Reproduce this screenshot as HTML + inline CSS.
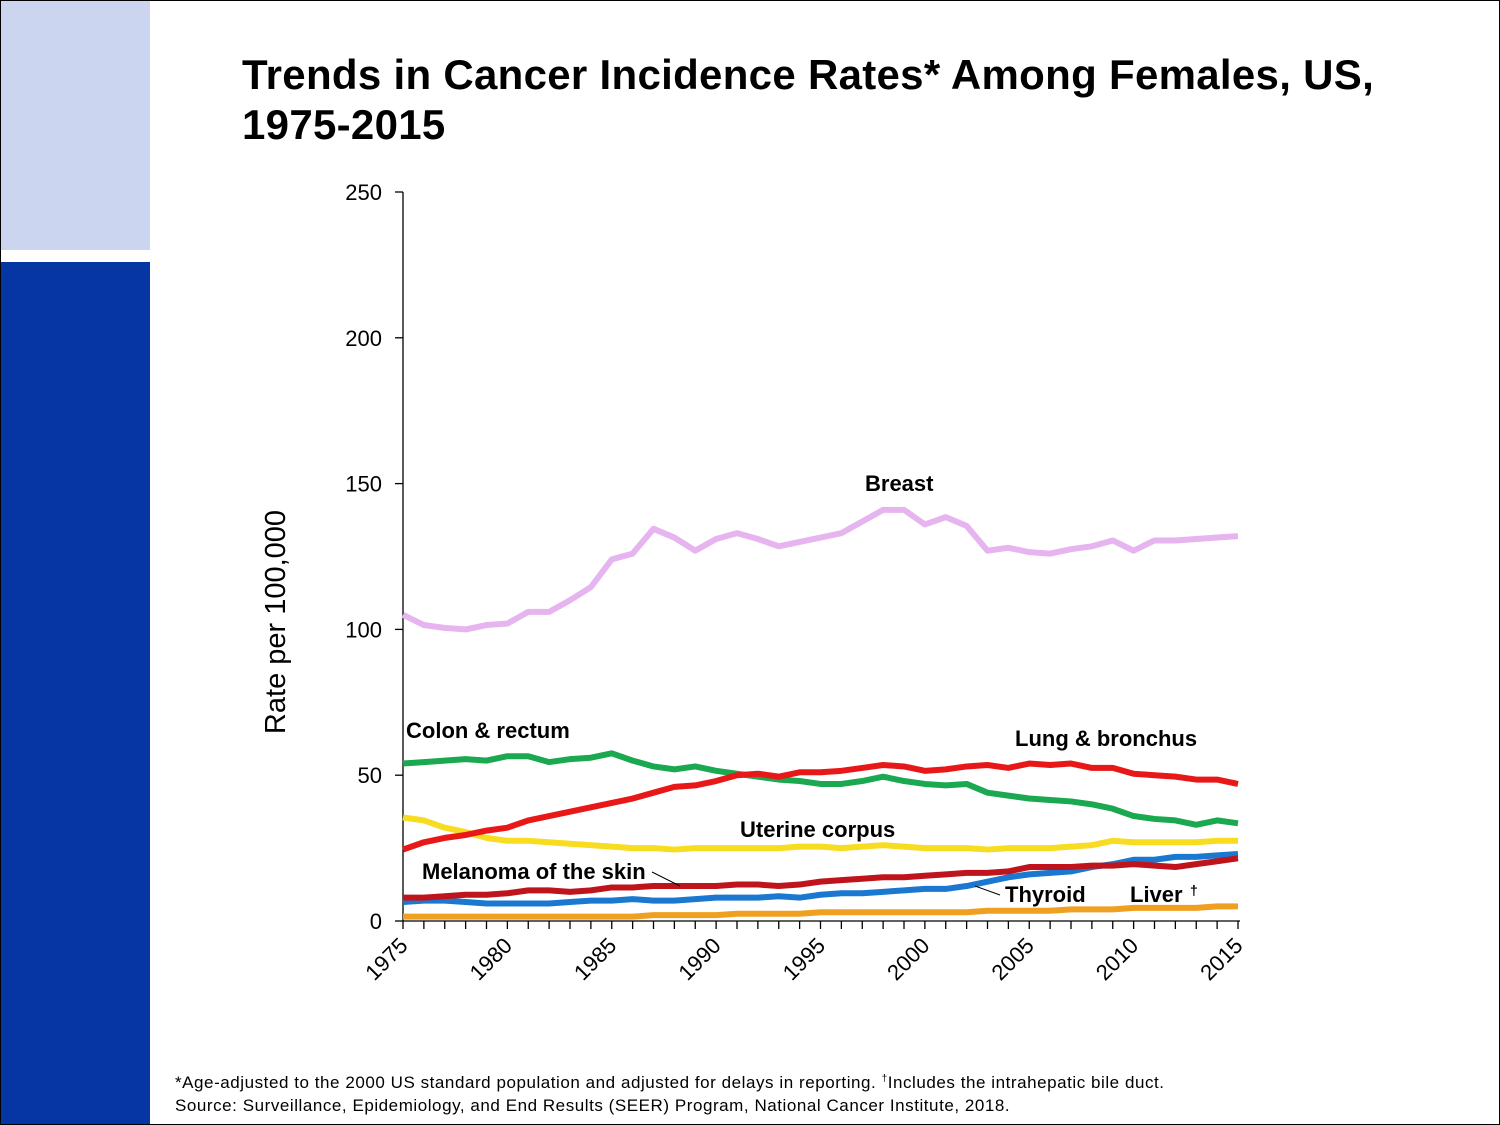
<!DOCTYPE html>
<html><head><meta charset="utf-8"><style>
body{margin:0;width:1500px;height:1125px;overflow:hidden;background:#fff;font-family:"Liberation Sans",sans-serif;position:relative}
#frame{position:absolute;left:0;top:0;width:1498px;height:1123px;border:1px solid #000}
#lb{position:absolute;left:1px;top:1px;width:149px;height:249px;background:#ccd5ef}
#db{position:absolute;left:1px;top:262px;width:149px;height:862px;background:#0636a3}
#title{position:absolute;left:242px;top:50px;font-size:42px;font-weight:bold;line-height:50px;color:#000;letter-spacing:0.3px}
.foot{position:absolute;left:175px;font-size:17px;color:#000;letter-spacing:0.55px}
</style></head><body>
<div id="frame"></div>
<div id="lb"></div>
<div id="db"></div>
<div id="title">Trends in Cancer Incidence Rates* Among Females, US,<br>1975-2015</div>
<svg id="chart" width="1500" height="1125" style="position:absolute;left:0;top:0"></svg>
<div class="foot" style="top:1073px">*Age-adjusted to the 2000 US standard population and adjusted for delays in reporting. <sup style="font-size:10px">†</sup>Includes the intrahepatic bile duct.</div>
<div class="foot" style="top:1096px">Source: Surveillance, Epidemiology, and End Results (SEER) Program, National Cancer Institute, 2018.</div>
<script>
const years=[];for(let y=1975;y<=2015;y++)years.push(y);
const yTicks=[0,50,100,150,200,250];
const xTickLabels=[1975,1980,1985,1990,1995,2000,2005,2010,2015];
const breast=[105,101.5,100.5,100,101.5,102,106,106,110,114.5,124,126,134.5,131.5,127,131,133,131,128.5,130,131.5,133,137,141,141,136,138.5,135.5,127,128,126.5,126,127.5,128.5,130.5,127,130.5,130.5,131,131.5,132];
const colon=[54,54.5,55,55.5,55,56.5,56.5,54.5,55.5,56,57.5,55,53,52,53,51.5,50.5,49.5,48.5,48,47,47,48,49.5,48,47,46.5,47,44,43,42,41.5,41,40,38.5,36,35,34.5,33,34.5,33.5];
const lung=[24.5,27,28.5,29.5,31,32,34.5,36,37.5,39,40.5,42,44,46,46.5,48,50,50.5,49.5,51,51,51.5,52.5,53.5,53,51.5,52,53,53.5,52.5,54,53.5,54,52.5,52.5,50.5,50,49.5,48.5,48.5,47];
const uterine=[35.5,34.5,32,30.5,28.5,27.5,27.5,27,26.5,26,25.5,25,25,24.5,25,25,25,25,25,25.5,25.5,25,25.5,26,25.5,25,25,25,24.5,25,25,25,25.5,26,27.5,27,27,27,27,27.5,27.5];
const melanoma=[8,8,8.5,9,9,9.5,10.5,10.5,10,10.5,11.5,11.5,12,12,12,12,12.5,12.5,12,12.5,13.5,14,14.5,15,15,15.5,16,16.5,16.5,17,18.5,18.5,18.5,19,19,19.5,19,18.5,19.5,20.5,21.5];
const thyroid=[6.5,7,7,6.5,6,6,6,6,6.5,7,7,7.5,7,7,7.5,8,8,8,8.5,8,9,9.5,9.5,10,10.5,11,11,12,13.5,15,16,16.5,17,18.5,19.5,21,21,22,22,22.5,23];
const liver=[1.5,1.5,1.5,1.5,1.5,1.5,1.5,1.5,1.5,1.5,1.5,1.5,2,2,2,2,2.5,2.5,2.5,2.5,3,3,3,3,3,3,3,3,3.5,3.5,3.5,3.5,4,4,4,4.5,4.5,4.5,4.5,5,5];
const X=y=>403+(y-1975)*(1238-403)/40;
const Y=v=>921-v*(921-192)/250;
const svg=document.getElementById('chart');const NS='http://www.w3.org/2000/svg';
function mk(t,a){const e=document.createElementNS(NS,t);for(const k in a)e.setAttribute(k,a[k]);svg.appendChild(e);return e;}
let e=mk('line',{x1:403,y1:Y(0),x2:403,y2:Y(250),stroke:'#000','stroke-width':1.3});


e=mk('line',{x1:403,y1:Y(0),x2:1240,y2:Y(0),stroke:'#000','stroke-width':1.3});


yTicks.forEach(t=>{
 e=mk('line',{x1:395,y1:Y(t),x2:403,y2:Y(t),stroke:'#000','stroke-width':1.3});
 
 
 e=mk('text',{x:382,y:Y(t)+8,'text-anchor':'end','font-size':22,'font-family':'Liberation Sans, sans-serif'});e.textContent=t;
 
 
});
years.forEach(y=>{
 e=mk('line',{x1:X(y),y1:Y(0),x2:X(y),y2:Y(0)+8,stroke:'#000','stroke-width':1.3});
 
 
});
xTickLabels.forEach(y=>{
 const x=X(y)+6,yy=Y(0)+26;
 e=mk('text',{x:x,y:yy,'text-anchor':'end','font-size':22,'font-family':'Liberation Sans, sans-serif',transform:`rotate(-45 ${x} ${yy})`});e.textContent=y;
 
 
});
e=mk('text',{x:285,y:622,'text-anchor':'middle','font-size':29,'font-family':'Liberation Sans, sans-serif',transform:'rotate(-90 285 622)'});e.textContent='Rate per 100,000';


const series=[['liver',liver,'#f0a020'],['thyroid',thyroid,'#1a78d0'],['melanoma',melanoma,'#c0141c'],['uterine',uterine,'#f8dc20'],['colon',colon,'#1aa850'],['lung',lung,'#e81818'],['breast',breast,'#e6b4ee']];
series.forEach(([n,d,c])=>{
 e=mk('polyline',{points:d.map((v,i)=>X(years[i])+','+Y(v)).join(' '),fill:'none',stroke:c,'stroke-width':6,'stroke-linejoin':'round'});
 
 
});
const labels=[['Breast',865,491,'breast-label'],['Colon & rectum',406,738,'colon-label'],['Lung & bronchus',1015,746,'lung-label'],['Uterine corpus',740,837,'uterine-label'],['Melanoma of the skin',422,879,'melanoma-label'],['Thyroid',1005,902,'thyroid-label'],['Liver',1130,902,'liver-label']];
labels.forEach(([t,x,y,n])=>{
 e=mk('text',{x:x,y:y,'font-size':22,'font-weight':'bold','font-family':'Liberation Sans, sans-serif'});e.textContent=t;
 
 
});
e=mk('text',{x:1190,y:895,'font-size':14,'font-weight':'bold','font-family':'Liberation Sans, sans-serif'});e.textContent='†';


e=mk('line',{x1:652,y1:872,x2:680,y2:886,stroke:'#000','stroke-width':1});


e=mk('line',{x1:975,y1:886,x2:1000,y2:895,stroke:'#000','stroke-width':1});


</script>
</body></html>
